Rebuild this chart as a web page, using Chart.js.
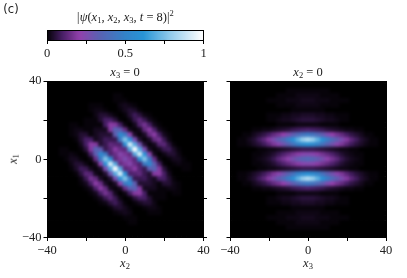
<!DOCTYPE html>
<html>
<head>
<meta charset="utf-8">
<script src="https://cdn.jsdelivr.net/npm/chart.js@4"></script>
<style>
  html, body { margin: 0; padding: 0; background: #fff; }
  #stage { position: relative; width: 407px; height: 278px; overflow: hidden; font-family: "Liberation Serif", serif; font-size: 12.5px; color: #222; }
  canvas { position: absolute; left: 0; top: 0; }
  .lbl { position: absolute; transform: translate(-50%, -50%); white-space: nowrap; line-height: 1; }
  .lbl sub { font-size: 8.5px; line-height: 0; vertical-align: -2px; }
  .lbl sup { font-size: 8.5px; line-height: 0; vertical-align: 5px; }
</style>
</head>
<body>
<div id="stage">
  <canvas id="barra" width="407" height="278"></canvas>
  <canvas id="painelX2" width="407" height="278"></canvas>
  <canvas id="painelX3" width="407" height="278"></canvas>
  <div class="lbl" style="left:11px;top:10px;font-family:'DejaVu Sans';font-size:11.5px">(c)</div>
  <div class="lbl" style="left:125px;top:17px"><i>|ψ</i>(<i>x</i><sub>1</sub>, <i>x</i><sub>2</sub>, <i>x</i><sub>3</sub>, <i>t</i> = 8)|<sup>2</sup></div>
  <div class="lbl" style="left:125px;top:72px"><i>x</i><sub>3</sub> = 0</div>
  <div class="lbl" style="left:308px;top:72px"><i>x</i><sub>2</sub> = 0</div>
  <div class="lbl" style="left:125px;top:263px"><i>x</i><sub>2</sub></div>
  <div class="lbl" style="left:308px;top:263px"><i>x</i><sub>3</sub></div>
  <div class="lbl" style="left:13px;top:159px;transform:translate(-50%,-50%) rotate(-90deg)"><i>x</i><sub>1</sub></div>
</div>
<script>
// grid of both maps, -40 .. 40
const gridCoords = [-40,-37.5,-35,-32.5,-30,-27.5,-25,-22.5,-20,-17.5,-15,-12.5,-10,-7.5,-5,-2.5,0,2.5,5,7.5,10,12.5,15,17.5,20,22.5,25,27.5,30,32.5,35,37.5,40];
const tickValues = [-40,-20,0,20,40];
const tickLabels = ['\u221240','','0','','40'];
const barTickValues = [0,0.25,0.5,0.75,1];
const barTickLabels = ['0','','0.5','','1'];
const barLevels = [0,0.02,0.04,0.06,0.08,0.1,0.12,0.14,0.16,0.18,0.2,0.22,0.24,0.26,0.28,0.3,0.32,0.34,0.36,0.38,0.4,0.42,0.44,0.46,0.48,0.5,0.52,0.54,0.56,0.58,0.6,0.62,0.64,0.66,0.68,0.7,0.72,0.74,0.76,0.78,0.8,0.82,0.84,0.86,0.88,0.9,0.92,0.94,0.96,0.98,1];

// colormap stops [value, r, g, b]
const corStops = [[0,0,0,0],[0.1,70,30,100],[0.21,146,64,172],[0.33,92,96,176],[0.5,52,130,200],[0.62,40,148,214],[0.8,150,205,236],[1,255,255,255]];

// |psi|^2 in percent, x1 = 40 (top) to -40, columns x2 = -40 to 40
const mapaX2 = [
  [0,0,0,0,0,0,0,0,0,0,0,0,0,0,0,0,0,0,0,0,0,0,0,0,0,0,0,0,0,0,0,0,0],
  [0,0,0,0,0,0,0,0,0,0,0,0,0,0,0,0,0,0,0,0,0,0,0,0,0,0,0,0,0,0,0,0,0],
  [0,0,0,0,0,0,0,0,0,0,0,0,0,0,0,0,0,0,0,0,0,0,0,0,0,0,0,0,0,0,0,0,0],
  [0,0,0,0,0,0,0,0,0,0,0,0,0,0,1,1,0,0,0,0,0,0,0,0,0,0,0,0,0,0,0,0,0],
  [0,0,0,0,0,0,0,0,0,0,0,0,0,0,1,1,1,0,0,0,0,0,0,0,0,0,0,0,0,0,0,0,0],
  [0,0,0,0,0,0,0,0,0,1,1,1,0,0,0,2,3,2,1,0,0,0,0,0,0,0,0,0,0,0,0,0,0],
  [0,0,0,0,0,0,0,0,0,1,2,2,1,0,0,1,3,5,4,1,0,0,0,0,0,0,0,0,0,0,0,0,0],
  [0,0,0,0,0,0,0,0,0,0,2,5,5,3,1,0,1,5,9,6,2,1,0,0,0,0,0,0,0,0,0,0,0],
  [0,0,0,0,0,0,0,0,1,1,1,5,10,10,6,1,0,2,8,13,8,3,1,0,0,0,0,0,0,0,0,0,0],
  [0,0,0,0,0,1,1,0,1,1,1,1,10,20,19,10,2,0,3,12,17,10,3,1,0,0,0,0,0,0,0,0,0],
  [0,0,0,0,0,1,2,2,1,1,3,3,3,19,35,32,15,3,1,3,14,20,11,3,1,0,0,0,0,0,0,0,0],
  [0,0,0,0,0,1,2,5,5,1,3,5,5,5,32,55,46,22,4,1,4,15,20,10,3,1,0,0,0,0,0,0,0],
  [0,0,0,0,0,0,1,5,10,10,3,5,9,8,8,46,77,60,26,5,1,4,14,17,8,2,0,0,0,0,0,0,0],
  [0,0,0,0,0,0,0,3,10,20,19,5,8,14,12,11,60,93,69,28,5,1,3,12,13,6,1,0,0,0,0,0,0],
  [0,0,0,1,1,0,0,1,6,19,35,32,8,12,20,15,13,69,100,69,26,4,1,3,8,9,4,1,0,0,0,0,0],
  [0,0,0,1,1,2,1,0,1,10,32,55,46,11,15,24,18,14,69,93,60,22,3,0,2,5,5,2,0,0,0,0,0],
  [0,0,0,0,1,3,3,1,0,2,15,46,77,60,13,18,26,18,13,60,77,46,15,2,0,1,3,3,1,0,0,0,0],
  [0,0,0,0,0,2,5,5,2,0,3,22,60,93,69,14,18,24,15,11,46,55,32,10,1,0,1,2,1,1,0,0,0],
  [0,0,0,0,0,1,4,9,8,3,1,4,26,69,100,69,13,15,20,12,8,32,35,19,6,1,0,0,1,1,0,0,0],
  [0,0,0,0,0,0,1,6,13,12,3,1,5,28,69,93,60,11,12,14,8,5,19,20,10,3,0,0,0,0,0,0,0],
  [0,0,0,0,0,0,0,2,8,17,14,4,1,5,26,60,77,46,8,8,9,5,3,10,10,5,1,0,0,0,0,0,0],
  [0,0,0,0,0,0,0,1,3,10,20,15,4,1,4,22,46,55,32,5,5,5,3,1,5,5,2,1,0,0,0,0,0],
  [0,0,0,0,0,0,0,0,1,3,11,20,14,3,1,3,15,32,35,19,3,3,3,1,1,2,2,1,0,0,0,0,0],
  [0,0,0,0,0,0,0,0,0,1,3,10,17,12,3,0,2,10,19,20,10,1,1,1,1,0,1,1,0,0,0,0,0],
  [0,0,0,0,0,0,0,0,0,0,1,3,8,13,8,2,0,1,6,10,10,5,1,1,1,0,0,0,0,0,0,0,0],
  [0,0,0,0,0,0,0,0,0,0,0,1,2,6,9,5,1,0,1,3,5,5,2,0,0,0,0,0,0,0,0,0,0],
  [0,0,0,0,0,0,0,0,0,0,0,0,0,1,4,5,3,1,0,0,1,2,2,1,0,0,0,0,0,0,0,0,0],
  [0,0,0,0,0,0,0,0,0,0,0,0,0,0,1,2,3,2,0,0,0,1,1,1,0,0,0,0,0,0,0,0,0],
  [0,0,0,0,0,0,0,0,0,0,0,0,0,0,0,0,1,1,1,0,0,0,0,0,0,0,0,0,0,0,0,0,0],
  [0,0,0,0,0,0,0,0,0,0,0,0,0,0,0,0,0,1,1,0,0,0,0,0,0,0,0,0,0,0,0,0,0],
  [0,0,0,0,0,0,0,0,0,0,0,0,0,0,0,0,0,0,0,0,0,0,0,0,0,0,0,0,0,0,0,0,0],
  [0,0,0,0,0,0,0,0,0,0,0,0,0,0,0,0,0,0,0,0,0,0,0,0,0,0,0,0,0,0,0,0,0],
  [0,0,0,0,0,0,0,0,0,0,0,0,0,0,0,0,0,0,0,0,0,0,0,0,0,0,0,0,0,0,0,0,0]
];

// same, columns x3 = -40 to 40
const mapaX3 = [
  [0,0,0,0,0,0,0,0,0,0,0,0,0,0,0,0,0,0,0,0,0,0,0,0,0,0,0,0,0,0,0,0,0],
  [0,0,0,0,0,0,0,0,0,0,0,0,0,0,0,0,0,0,0,0,0,0,0,0,0,0,0,0,0,0,0,0,0],
  [0,0,0,0,0,0,0,0,0,0,0,0,1,1,1,1,1,1,1,1,1,0,0,0,0,0,0,0,0,0,0,0,0],
  [0,0,0,0,0,0,0,0,0,0,1,1,1,1,2,2,2,2,2,1,1,1,1,0,0,0,0,0,0,0,0,0,0],
  [0,0,0,0,0,0,0,0,1,1,1,1,2,2,2,3,3,3,2,2,2,1,1,1,1,0,0,0,0,0,0,0,0],
  [0,0,0,0,0,0,0,0,0,0,1,1,1,1,2,2,2,2,2,1,1,1,1,0,0,0,0,0,0,0,0,0,0],
  [0,0,0,0,0,0,0,0,0,0,0,0,0,1,1,1,1,1,1,1,0,0,0,0,0,0,0,0,0,0,0,0,0],
  [0,0,0,0,0,0,0,0,1,1,1,2,2,3,3,4,4,4,3,3,2,2,1,1,1,0,0,0,0,0,0,0,0],
  [0,0,0,0,0,0,0,0,1,1,2,3,3,4,5,6,6,6,5,4,3,3,2,1,1,0,0,0,0,0,0,0,0],
  [0,0,0,0,0,0,0,0,0,0,1,1,1,1,2,2,2,2,2,1,1,1,1,0,0,0,0,0,0,0,0,0,0],
  [0,0,0,0,0,1,1,2,2,3,4,5,6,8,9,10,11,10,9,8,6,5,4,3,2,2,1,1,0,0,0,0,0],
  [0,0,0,1,1,3,5,7,10,14,17,21,26,32,38,43,46,43,38,32,26,21,17,14,10,7,5,3,1,1,0,0,0],
  [0,0,1,1,3,5,9,13,19,26,32,39,48,60,71,80,85,80,71,60,48,39,32,26,19,13,9,5,3,1,1,0,0],
  [0,0,1,1,2,4,6,9,13,18,23,28,34,42,50,56,60,56,50,42,34,28,23,18,13,9,6,4,2,1,1,0,0],
  [0,0,0,0,0,0,1,1,2,2,3,4,5,6,7,8,8,8,7,6,5,4,3,2,2,1,1,0,0,0,0,0,0],
  [0,0,0,0,0,1,1,2,3,5,8,11,14,17,20,23,24,23,20,17,14,11,8,5,3,2,1,1,0,0,0,0,0],
  [0,0,0,0,0,1,2,3,5,8,13,17,22,27,32,36,38,36,32,27,22,17,13,8,5,3,2,1,0,0,0,0,0],
  [0,0,0,0,0,1,1,2,3,5,8,11,14,17,20,23,24,23,20,17,14,11,8,5,3,2,1,1,0,0,0,0,0],
  [0,0,0,0,0,0,1,1,2,2,3,4,5,6,7,8,8,8,7,6,5,4,3,2,2,1,1,0,0,0,0,0,0],
  [0,0,1,1,2,4,6,9,13,18,23,28,34,42,50,56,60,56,50,42,34,28,23,18,13,9,6,4,2,1,1,0,0],
  [0,0,1,1,3,5,9,13,19,26,32,39,48,60,71,80,85,80,71,60,48,39,32,26,19,13,9,5,3,1,1,0,0],
  [0,0,0,1,1,3,5,7,10,14,17,21,26,32,38,43,46,43,38,32,26,21,17,14,10,7,5,3,1,1,0,0,0],
  [0,0,0,0,0,1,1,2,2,3,4,5,6,8,9,10,11,10,9,8,6,5,4,3,2,2,1,1,0,0,0,0,0],
  [0,0,0,0,0,0,0,0,0,0,1,1,1,1,2,2,2,2,2,1,1,1,1,0,0,0,0,0,0,0,0,0,0],
  [0,0,0,0,0,0,0,0,1,1,2,3,3,4,5,6,6,6,5,4,3,3,2,1,1,0,0,0,0,0,0,0,0],
  [0,0,0,0,0,0,0,0,1,1,1,2,2,3,3,4,4,4,3,3,2,2,1,1,1,0,0,0,0,0,0,0,0],
  [0,0,0,0,0,0,0,0,0,0,0,0,0,1,1,1,1,1,1,1,0,0,0,0,0,0,0,0,0,0,0,0,0],
  [0,0,0,0,0,0,0,0,0,0,1,1,1,1,2,2,2,2,2,1,1,1,1,0,0,0,0,0,0,0,0,0,0],
  [0,0,0,0,0,0,0,0,1,1,1,1,2,2,2,3,3,3,2,2,2,1,1,1,1,0,0,0,0,0,0,0,0],
  [0,0,0,0,0,0,0,0,0,0,1,1,1,1,2,2,2,2,2,1,1,1,1,0,0,0,0,0,0,0,0,0,0],
  [0,0,0,0,0,0,0,0,0,0,0,0,1,1,1,1,1,1,1,1,1,0,0,0,0,0,0,0,0,0,0,0,0],
  [0,0,0,0,0,0,0,0,0,0,0,0,0,0,0,0,0,0,0,0,0,0,0,0,0,0,0,0,0,0,0,0,0],
  [0,0,0,0,0,0,0,0,0,0,0,0,0,0,0,0,0,0,0,0,0,0,0,0,0,0,0,0,0,0,0,0,0]
];

function corDoValor(v) {
  for (let k = 1; k < corStops.length; k++) {
    const a = corStops[k - 1], b = corStops[k];
    if (v <= b[0]) {
      const f = (v - a[0]) / (b[0] - a[0]);
      return `rgb(${a[1] + f * (b[1] - a[1])},${a[2] + f * (b[2] - a[2])},${a[3] + f * (b[3] - a[3])})`;
    }
  }
  return 'rgb(255,255,255)';
}

// imshow interpolation: redraw the plot area through a small blur
const suavizar = {
  id: 'suavizar',
  afterDatasetsDraw(chart, args, opts) {
    const a = chart.chartArea, ctx = chart.ctx;
    ctx.save();
    ctx.beginPath();
    ctx.rect(a.left, a.top, a.right - a.left, a.bottom - a.top);
    ctx.clip();
    ctx.filter = 'blur(' + opts.raio + 'px)';
    ctx.drawImage(chart.canvas, 0, 0);
    ctx.restore();
  }
};

function eixo(posicao, tamanho, extra) {
  const vertical = posicao === 'left' || posicao === 'right';
  return Object.assign({
    type: 'linear', position: posicao, min: -40, max: 40,
    afterFit: s => { if (vertical) s.width = tamanho; else s.height = tamanho; },
    border: { display: true, color: '#000', width: 1, z: 1 },
    grid: { drawOnChartArea: false, drawTicks: false, tickLength: 3.5, tickColor: '#000', lineWidth: 1 },
    ticks: { display: false, stepSize: 20 }
  }, extra);
}

function marcas(comTexto, valores, textos) {
  return {
    display: comTexto, stepSize: valores[1] - valores[0], autoSkip: false, maxRotation: 0, padding: 2,
    color: '#222', font: { family: '"Liberation Serif", serif', size: 12.5 },
    callback: v => textos[valores.indexOf(v)]
  };
}

function criarMapa(canvasId, mapa, esquerda, direita, textoY, marcasDireita) {
  const pontos = [], cores = [];
  mapa.forEach((linha, i) => {
    linha.forEach((valor, j) => {
      pontos.push({ x: gridCoords[j], y: gridCoords[mapa.length - 1 - i] });
      cores.push(corDoValor(valor / 100));
    });
  });
  const gradeMarcas = { drawOnChartArea: false, drawTicks: true, tickLength: 3.5, tickColor: '#000', lineWidth: 1 };
  return new Chart(document.getElementById(canvasId), {
    type: 'scatter',
    data: { datasets: [{ data: pontos, backgroundColor: cores, borderWidth: 0, pointStyle: 'rect', pointRadius: 3.8 }] },
    plugins: [suavizar],
    options: {
      responsive: false, animation: false,
      layout: { padding: { left: esquerda - 47, top: 81, right: direita - 3, bottom: 0 } },
      plugins: { legend: { display: false }, tooltip: { enabled: false }, suavizar: { raio: 1.5 } },
      scales: {
        x: eixo('bottom', 40.5, { grid: gradeMarcas, ticks: marcas(true, tickValues, tickLabels) }),
        y: eixo('left', 47, { grid: gradeMarcas, ticks: marcas(textoY, tickValues, tickLabels) }),
        topo: eixo('top', 0, {}),
        dir: eixo('right', 3, marcasDireita ? { grid: gradeMarcas, ticks: marcas(false, tickValues, tickLabels) } : {})
      }
    }
  });
}

function criarBarra() {
  const gradeMarcas = { drawOnChartArea: false, drawTicks: true, tickLength: 3.5, tickColor: '#000', lineWidth: 1 };
  new Chart(document.getElementById('barra'), {
    type: 'bar',
    data: { datasets: [{
      data: barLevels.map(v => ({ x: v, y: 1 })),
      backgroundColor: barLevels.map(corDoValor),
      barPercentage: 1.4, categoryPercentage: 1, borderWidth: 0
    }] },
    plugins: [suavizar],
    options: {
      responsive: false, animation: false,
      layout: { padding: { left: 0, top: 30, right: 200.5, bottom: 0 } },
      plugins: { legend: { display: false }, tooltip: { enabled: false }, suavizar: { raio: 0.8 } },
      scales: {
        x: eixo('bottom', 237.5, { min: 0, max: 1, offset: false, grid: Object.assign({ offset: false }, gradeMarcas), ticks: marcas(true, barTickValues, barTickLabels) }),
        y: eixo('left', 47, { min: 0, max: 1 }),
        topo: eixo('top', 0, { min: 0, max: 1 }),
        dir: eixo('right', 3, { min: 0, max: 1 })
      }
    }
  });
}

criarBarra();
criarMapa('painelX2', mapaX2, 47, 203.5, true, true);
criarMapa('painelX3', mapaX3, 230, 21, false, false);
</script>
</body>
</html>
